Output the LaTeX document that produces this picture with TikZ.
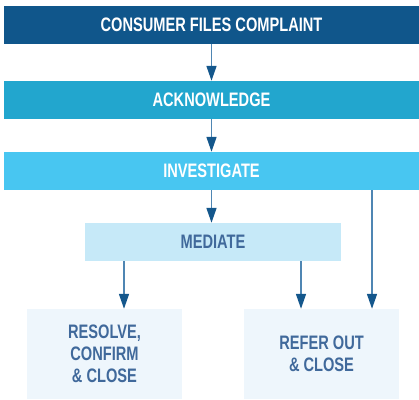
\documentclass[tikz,border=0pt]{standalone}
\usepackage{fontspec}
\setmainfont{Liberation Sans}[FakeStretch=0.75]
\usepackage{tikz}
\usetikzlibrary{arrows.meta}

\definecolor{stepdark}{HTML}{10568B}
\definecolor{stepmid}{HTML}{22A6CE}
\definecolor{steplight}{HTML}{48C6F1}
\definecolor{steppale}{HTML}{C6E9F8}
\definecolor{endpale}{HTML}{EEF6FC}
\definecolor{labeldark}{HTML}{40699B}
\definecolor{arrowline}{HTML}{4F86B3}
\definecolor{arrowhead}{HTML}{14578C}

\tikzset{
  stepbox/.style={rectangle, inner sep=0pt, minimum height=38pt,
    font=\bfseries\fontsize{19.5}{22}\selectfont, align=center},
  endbox/.style={stepbox, fill=endpale, text=labeldark,
    minimum width=155pt, minimum height=90pt},
  flow/.style={draw=arrowline, line width=1.6pt,
    -{Triangle[width=10pt,length=15pt,color=arrowhead]}}
}

\begin{document}
\begin{tikzpicture}
    \useasboundingbox (0pt,0pt) rectangle (419pt,-399pt);
    % boxes
    \node[stepbox, fill=stepdark, text=white, minimum width=415pt] (complaint) at (211.5pt, -25pt) {CONSUMER FILES COMPLAINT};
    \node[stepbox, fill=stepmid, text=white, minimum width=415pt] (acknowledge) at (211.5pt,-100pt) {ACKNOWLEDGE};
    \node[stepbox, fill=steplight, text=white, minimum width=415pt] (investigate) at (211.5pt,-171pt) {INVESTIGATE};
    \node[stepbox, fill=steppale, text=labeldark, minimum width=256pt] (mediate) at (213pt,-242pt) {MEDIATE};
    \node[endbox] (resolve) at (104.5pt,-354pt) {RESOLVE,\\CONFIRM\\\& CLOSE};
    \node[endbox] (refer) at (321.5pt,-354pt) {REFER OUT\\\& CLOSE};
    \coordinate (resolvein) at ([xshift=19.5pt]resolve.north);
    \coordinate (referin) at ([xshift=-20.5pt]refer.north);
    \coordinate (bypass) at ([xshift=50.5pt]refer.north);
    % arrows
    \draw[flow] (complaint.south) -- (acknowledge.north);
    \draw[flow] (acknowledge.south) -- (investigate.north);
    \draw[flow] (investigate.south) -- (mediate.north -| investigate.south);
    \draw[flow] (investigate.south -| bypass) -- (bypass);
    \draw[flow] (mediate.south -| resolvein) -- (resolvein);
    \draw[flow] (mediate.south -| referin) -- (referin);
  \end{tikzpicture}
\end{document}
